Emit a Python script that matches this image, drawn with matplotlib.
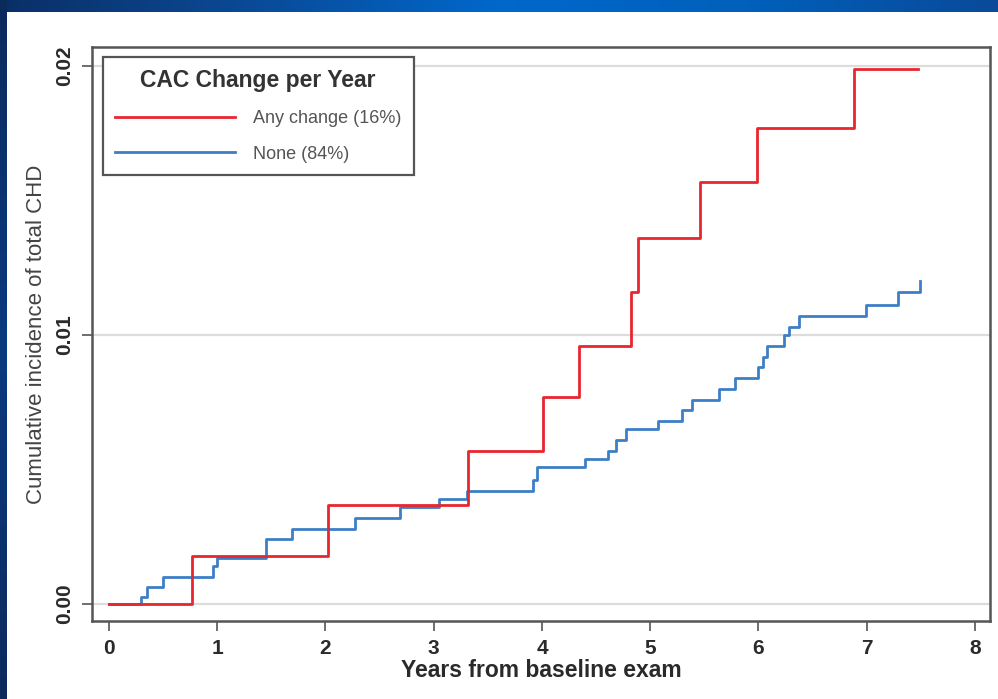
import numpy as np
import matplotlib
matplotlib.use("Agg")
import matplotlib.pyplot as plt
from matplotlib.lines import Line2D

plt.rcParams['font.family'] = ['Liberation Sans Narrow', 'Liberation Sans', 'DejaVu Sans']

# Any change (16%) - cumulative incidence steps
t_any = [0, 0.77, 2.02, 3.32, 4.01, 4.34, 4.82, 4.89, 5.46, 5.99, 6.88, 7.47]
ci_any = [0, 0.0018, 0.0037, 0.0057, 0.0077, 0.0096, 0.0116, 0.0136, 0.0157, 0.0177, 0.0199, 0.0199]

# None (84%)
t_none = [0, 0.30, 0.35, 0.50, 0.96, 1.00, 1.45, 1.69, 2.27, 2.69, 3.05, 3.31,
          3.92, 3.95, 4.40, 4.61, 4.68, 4.78, 5.07, 5.29, 5.39, 5.64, 5.78,
          6.00, 6.04, 6.08, 6.24, 6.28, 6.37, 6.99, 7.29, 7.49]
ci_none = [0, 0.00026, 0.00063, 0.0010, 0.0014, 0.0017, 0.0024, 0.0028, 0.0032, 0.0036, 0.0039, 0.0042,
           0.0046, 0.0051, 0.0054, 0.0057, 0.0061, 0.0065, 0.0068, 0.0072, 0.0076, 0.0080, 0.0084,
           0.0088, 0.0092, 0.0096, 0.0100, 0.0103, 0.0107, 0.0111, 0.0116, 0.0120]

labels = ['Any change (16%)', 'None (84%)']
colors = ['#e8262f', '#3d7fc6']

x_ticks = [0, 1, 2, 3, 4, 5, 6, 7, 8]
y_ticks = [0.0, 0.01, 0.02]
y_ticklabels = ['0.00', '0.01', '0.02']

fig = plt.figure(figsize=(9.98, 6.99), dpi=100)
fig.patch.set_facecolor('white')

# slide background: blue band on top, dark strip on the left
W, H = 998, 699
top = fig.add_axes([0, 1 - 12 / H, 1, 12 / H])
grad = np.linspace(0, 1, 256)
cmap_top = matplotlib.colors.LinearSegmentedColormap.from_list(
    'top', ['#0a2f66', '#0a4a96', '#0068cc', '#0060bb', '#0a4a99'])
top.imshow(grad[None, :], aspect='auto', cmap=cmap_top, extent=[0, 1, 0, 1])
top.axis('off')
left = fig.add_axes([0, 0, 7 / W, 1])
cmap_left = matplotlib.colors.LinearSegmentedColormap.from_list(
    'left', ['#0a2a5c', '#0b3a80', '#0a2a5c'])
left.imshow(np.linspace(0, 1, 256)[:, None], aspect='auto', cmap=cmap_left, extent=[0, 1, 0, 1])
left.axis('off')

ax = fig.add_axes([92 / W, 1 - 621 / H, (990 - 92) / W, (621 - 47) / H])

for yv in y_ticks:
    ax.axhline(yv, color='#dcdcdc', lw=1.6, zorder=1)

ax.plot(t_any, ci_any, drawstyle='steps-post', color=colors[0], lw=2.0, zorder=3)
ax.plot(t_none, ci_none, drawstyle='steps-post', color=colors[1], lw=2.0, zorder=2)

ax.set_xlim(-0.157, 8.139)
ax.set_ylim(-0.00063, 0.02071)
ax.set_xticks(x_ticks)
ax.set_yticks(y_ticks)
ax.set_yticklabels(y_ticklabels, rotation=90, va='center')
ax.tick_params(colors='#555555', labelcolor='#2a2a2a', labelsize=15, length=7, width=1.2, pad=6)
for lab in ax.get_xticklabels() + ax.get_yticklabels():
    lab.set_fontweight('bold')
for sp in ax.spines.values():
    sp.set_color('#555555')
    sp.set_linewidth(1.8)

ax.set_xlabel('Years from baseline exam', fontsize=16.5, fontweight='bold', color='#2a2a2a', labelpad=1)
ax.set_ylabel('Cumulative incidence of total CHD', fontsize=16, color='#444444', labelpad=6)

handles = [Line2D([], [], color=c, lw=2.0) for c in colors]
leg = ax.legend(handles, labels, title='CAC Change per Year', loc='upper left',
                bbox_to_anchor=(0.012, 0.983), borderaxespad=0, fontsize=13, title_fontsize=16.5,
                frameon=True, fancybox=False, handlelength=6.6, handletextpad=1.0,
                borderpad=0.7, labelspacing=1.0, framealpha=1)
leg.get_frame().set_edgecolor('#555555')
leg.get_frame().set_linewidth(1.6)
for txt in leg.get_texts():
    txt.set_color('#555555')
leg.get_title().set_color('#333333')
leg.get_title().set_fontweight('semibold')

fig.savefig('out.png', dpi=100)
